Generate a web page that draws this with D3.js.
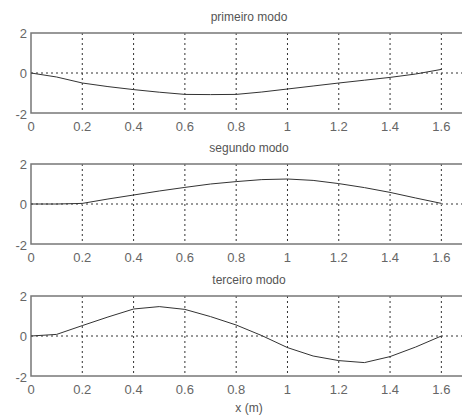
<!DOCTYPE html>
<html>
<head>
<meta charset="utf-8">
<script src="https://cdn.jsdelivr.net/npm/d3@7"></script>
<style>
  body { margin: 0; background: #fff; }
  svg { display: block; font-family: "Liberation Sans", Arial, sans-serif; }
</style>
</head>
<body>
<script>
// positions along the beam (m)
const xs = [0, 0.1, 0.2, 0.3, 0.4, 0.5, 0.6, 0.7, 0.8, 0.9, 1.0, 1.1, 1.2, 1.3, 1.4, 1.5, 1.6];

// mode shapes
const mode1 = [0, -0.2, -0.5, -0.68, -0.83, -0.96, -1.07, -1.08, -1.07, -0.95, -0.8, -0.65, -0.5, -0.36, -0.22, -0.05, 0.18];
const mode2 = [0, 0, 0.03, 0.25, 0.45, 0.65, 0.83, 1.0, 1.12, 1.22, 1.25, 1.18, 1.02, 0.82, 0.58, 0.3, 0.03];
const mode3 = [0, 0.08, 0.52, 0.95, 1.35, 1.47, 1.33, 0.97, 0.55, 0.02, -0.58, -1.0, -1.23, -1.33, -1.03, -0.55, 0];

const titles = ["primeiro modo", "segundo modo", "terceiro modo"];
const xTicks = [0, 0.2, 0.4, 0.6, 0.8, 1, 1.2, 1.4, 1.6];
const yTicks = [-2, 0, 2];

const width = 462, height = 419;
const left = 31, right = 467;
const panelTops = [33, 164, 296];
const panelH = 80;

const svg = d3.select("body").append("svg")
  .attr("width", width)
  .attr("height", height);

const x = d3.scaleLinear().domain([0, 1.7]).range([left, right]);

[mode1, mode2, mode3].forEach((vals, i) => {
  const top = panelTops[i];
  const y = d3.scaleLinear().domain([-2, 2]).range([top + panelH, top]);
  const g = svg.append("g");

  // grid
  g.selectAll(".vg").data(xTicks.slice(1)).enter().append("line")
    .attr("x1", d => x(d)).attr("x2", d => x(d))
    .attr("y1", top).attr("y2", top + panelH)
    .attr("stroke", "#333").attr("stroke-width", 1)
    .attr("stroke-dasharray", "2,3");
  g.append("line")
    .attr("x1", left).attr("x2", right)
    .attr("y1", y(0)).attr("y2", y(0))
    .attr("stroke", i === 1 ? "#999" : "#333").attr("stroke-width", i === 1 ? 2 : 1)
    .attr("stroke-dasharray", "2,3");

  // box
  g.append("rect")
    .attr("x", left).attr("y", top)
    .attr("width", right - left).attr("height", panelH)
    .attr("fill", "none").attr("stroke", "#777").attr("stroke-width", 1.5);

  // tick labels
  g.selectAll(".xt").data(xTicks).enter().append("text")
    .attr("x", d => x(d)).attr("y", top + panelH + 18)
    .attr("text-anchor", "middle")
    .attr("font-size", 13).attr("fill", "#666")
    .text(d => d3.format("~g")(d));
  g.selectAll(".yt").data(yTicks).enter().append("text")
    .attr("x", left - 4).attr("y", d => y(d) + 5 + (d === -2 ? 1 : 0))
    .attr("text-anchor", "end")
    .attr("font-size", 13).attr("fill", "#666")
    .text(d => d);

  // title
  g.append("text")
    .attr("x", (left + right) / 2).attr("y", top - 12)
    .attr("text-anchor", "middle")
    .attr("font-size", 12).attr("fill", "#555")
    .text(titles[i]);

  // curve
  const line = d3.line().x((d, j) => x(xs[j])).y(d => y(d));
  g.append("path")
    .datum(vals)
    .attr("d", line)
    .attr("fill", "none")
    .attr("stroke", "#333")
    .attr("stroke-width", 1);
});

svg.append("text")
  .attr("x", (left + right) / 2).attr("y", 412)
  .attr("text-anchor", "middle")
  .attr("font-size", 12).attr("fill", "#555")
  .text("x (m)");
</script>
</body>
</html>
